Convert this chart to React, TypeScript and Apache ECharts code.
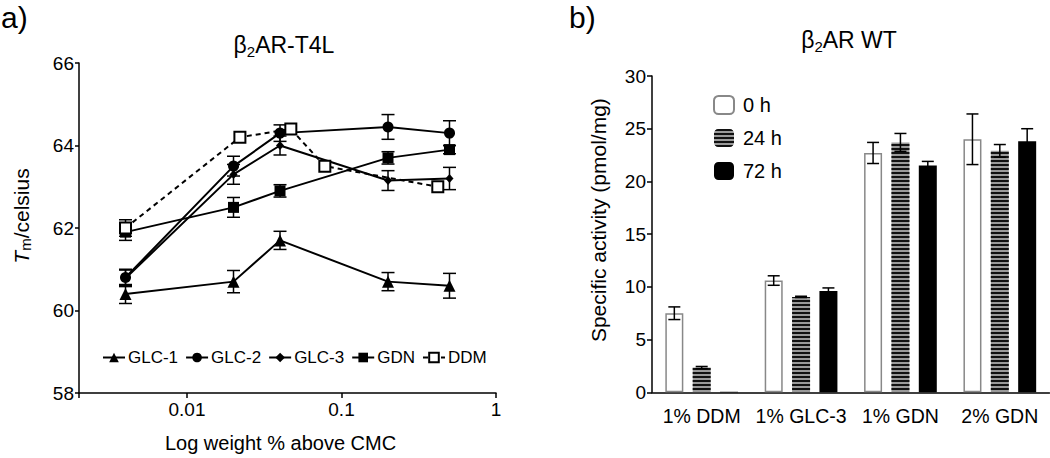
import React, { useEffect, useRef } from 'react';
import * as echarts from 'echarts';

// ---------- Panel a) data ----------
const concentrations = [0.004, 0.02, 0.04, 0.2, 0.5];
const ddmConcentrations = [0.004, 0.022, 0.047, 0.078, 0.42];
const glc1 = [60.4, 60.7, 61.7, 60.7, 60.6];
const glc1Err = [0.23, 0.27, 0.22, 0.22, 0.3];
const glc2 = [60.8, 63.5, 64.3, 64.45, 64.3];
const glc2Err = [0.2, 0.24, 0.2, 0.3, 0.3];
const glc3 = [60.78, 63.3, 64.0, 63.15, 63.2];
const glc3Err = [0.2, 0.24, 0.23, 0.24, 0.27];
const gdn = [61.9, 62.5, 62.9, 63.7, 63.9];
const gdnErr = [0.2, 0.24, 0.15, 0.15, 0.1];
const ddm = [62.0, 64.2, 64.4, 63.5, 63.0];
const ddmErr = [0.2, 0, 0, 0, 0];
const leftYTicks = [58, 60, 62, 64, 66];
const leftXTickLabels = [0.01, 0.1, 1];
const leftXRange = [0.002, 1];

// ---------- Panel b) data ----------
const categories = ['1% DDM', '1% GLC-3', '1% GDN', '2% GDN'];
const act0h = [7.5, 10.6, 22.7, 24.0];
const act0hErr = [0.6, 0.45, 1.0, 2.4];
const act24h = [2.35, 9.05, 23.7, 22.9];
const act24hErr = [0.1, 0.06, 0.85, 0.6];
const act72h = [0.05, 9.6, 21.5, 23.8];
const act72hErr = [0, 0.3, 0.4, 1.2];
const rightYTicks = [0, 5, 10, 15, 20, 25, 30];

const FONT = 'Liberation Sans, Arial, sans-serif';
const BAR_W = 18;
const BAR_GAP = 0.52;

function errorBarRender(offset: number, cap: number) {
  return (params: any, api: any) => {
    const x = api.value(0);
    const y = api.value(1);
    const e = api.value(2);
    if (!e) return null;
    const hi = api.coord([x, y + e]);
    const lo = api.coord([x, y - e]);
    const cx = hi[0] + offset;
    const st = { stroke: '#000', lineWidth: 1.5 };
    return {
      type: 'group',
      children: [
        { type: 'line', shape: { x1: cx, y1: hi[1], x2: cx, y2: lo[1] }, style: st },
        { type: 'line', shape: { x1: cx - cap, y1: hi[1], x2: cx + cap, y2: hi[1] }, style: st },
        { type: 'line', shape: { x1: cx - cap, y1: lo[1], x2: cx + cap, y2: lo[1] }, style: st },
      ],
    };
  };
}

function lineSeries(name: string, xs: number[], ys: number[], symbol: string, size: number | number[], dashed: boolean) {
  return {
    type: 'line',
    name,
    xAxisIndex: 0,
    yAxisIndex: 0,
    data: xs.map((x, i) => [x, ys[i]]),
    symbol,
    symbolSize: size,
    showSymbol: true,
    lineStyle: { color: '#000', width: 2, type: dashed ? [5, 4] : 'solid' },
    itemStyle: { color: '#000', borderColor: '#000', borderWidth: symbol === 'emptyRect' ? 1.5 : 0 },
    z: 3,
  };
}

function lineErrSeries(xs: number[], ys: number[], errs: number[]) {
  return {
    type: 'custom',
    xAxisIndex: 0,
    yAxisIndex: 0,
    renderItem: errorBarRender(0, 6.5),
    data: xs.map((x, i) => [x, ys[i], errs[i]]),
    z: 2,
  };
}

function barErrSeries(vals: number[], errs: number[], idx: number) {
  return {
    type: 'custom',
    xAxisIndex: 1,
    yAxisIndex: 1,
    renderItem: errorBarRender((idx - 1) * BAR_W * (1 + BAR_GAP), 6),
    data: vals.map((v, i) => [i, v, errs[i]]),
    z: 4,
  };
}

const axisLineStyle = { show: true, lineStyle: { color: '#000', width: 1.5 } };

const titleRich = {
  m: { fontSize: 23, lineHeight: 28, fontFamily: FONT },
  s: { fontSize: 15, lineHeight: 15, verticalAlign: 'bottom', fontFamily: FONT },
};

const option: any = {
  animation: false,
  backgroundColor: '#fff',
  textStyle: { fontFamily: FONT, color: '#000' },
  graphic: [
    { type: 'text', x: 1, y: 2, style: { text: 'a)', font: '30px ' + FONT, fill: '#000', verticalAlign: 'top' } },
    { type: 'text', x: 569, y: 2, style: { text: 'b)', font: '30px ' + FONT, fill: '#000', verticalAlign: 'top' } },
    {
      type: 'text', x: 284, y: 31,
      style: { text: '{m|β}{s|2}{m|AR-T4L}', align: 'center', verticalAlign: 'top', fill: '#000', rich: titleRich },
    },
    {
      type: 'text', x: 849, y: 26,
      style: { text: '{m|β}{s|2}{m|AR WT}', align: 'center', verticalAlign: 'top', fill: '#000', rich: titleRich },
    },
  ],
  grid: [
    { left: 79, top: 63, width: 417, height: 330 },
    { left: 652, top: 76, width: 397.5, height: 316.3 },
  ],
  legend: [
    {
      data: ['GLC-1', 'GLC-2', 'GLC-3', 'GDN', 'DDM'],
      left: 102, top: 349, orient: 'horizontal', padding: 0,
      itemWidth: 22, itemHeight: 12, itemGap: 7,
      textStyle: { fontSize: 17, fontFamily: FONT, color: '#000', padding: [0, 0, 0, -2] },
    },
    {
      data: ['0 h', '24 h', '72 h'],
      left: 713, top: 95, orient: 'vertical', padding: 0,
      itemWidth: 20, itemHeight: 18, itemGap: 13,
      textStyle: { fontSize: 20, fontFamily: FONT, color: '#000', padding: [0, 0, 0, 4] },
    },
  ],
  xAxis: [
    {
      type: 'log', gridIndex: 0, logBase: 10,
      min: leftXRange[0], max: leftXRange[1],
      axisLine: axisLineStyle,
      axisTick: { show: true, length: 5, lineStyle: { color: '#000', width: 1.5 } },
      minorTick: { show: false },
      splitLine: { show: false },
      axisLabel: {
        fontSize: 19, color: '#000', margin: 7, fontFamily: FONT,
        formatter: (v: number) => {
          const t = leftXTickLabels.find((t) => Math.abs(t - v) / t < 1e-6);
          return t === undefined ? '' : String(t);
        },
      },
      name: 'Log weight % above CMC',
      nameLocation: 'middle', nameGap: 40,
      nameTextStyle: { fontSize: 20, color: '#000', fontFamily: FONT, padding: [0, 14, 0, 0] },
    },
    {
      type: 'category', gridIndex: 1, data: categories,
      axisLine: axisLineStyle,
      axisTick: { show: false },
      axisLabel: { fontSize: 19.5, color: '#000', margin: 14, fontFamily: FONT, interval: 0 },
    },
  ],
  yAxis: [
    {
      type: 'value', gridIndex: 0,
      min: leftYTicks[0], max: leftYTicks[leftYTicks.length - 1], interval: leftYTicks[1] - leftYTicks[0],
      axisLine: axisLineStyle,
      axisTick: { show: true, length: 4, lineStyle: { color: '#000', width: 1.5 } },
      splitLine: { show: false },
      axisLabel: { fontSize: 19, color: '#000', margin: 5, fontFamily: FONT },
      name: '{i|T}{s|m}{n|/celsius}',
      nameLocation: 'middle', nameGap: 46,
      nameTextStyle: {
        padding: [0, 0, 0, 24],
        rich: {
          i: { fontSize: 21, fontStyle: 'italic', fontFamily: FONT, color: '#000', lineHeight: 24 },
          s: { fontSize: 15, fontFamily: FONT, color: '#000', verticalAlign: 'bottom', lineHeight: 15 },
          n: { fontSize: 21, fontFamily: FONT, color: '#000', lineHeight: 24 },
        },
      },
    },
    {
      type: 'value', gridIndex: 1,
      min: rightYTicks[0], max: rightYTicks[rightYTicks.length - 1], interval: rightYTicks[1] - rightYTicks[0],
      axisLine: axisLineStyle,
      axisTick: { show: true, length: 5, lineStyle: { color: '#000', width: 1.5 } },
      splitLine: { show: false },
      axisLabel: { fontSize: 19, color: '#000', margin: 6, fontFamily: FONT },
      name: 'Specific activity (pmol/mg)',
      nameLocation: 'middle', nameGap: 43,
      nameTextStyle: { fontSize: 21, color: '#000', fontFamily: FONT, padding: [0, 0, 0, 28] },
    },
  ],
  series: [
    lineErrSeries(concentrations, glc1, glc1Err),
    lineErrSeries(concentrations, glc2, glc2Err),
    lineErrSeries(concentrations, glc3, glc3Err),
    lineErrSeries(concentrations, gdn, gdnErr),
    lineErrSeries(ddmConcentrations, ddm, ddmErr),
    lineSeries('GLC-1', concentrations, glc1, 'triangle', 12, false),
    lineSeries('GLC-2', concentrations, glc2, 'circle', 11, false),
    lineSeries('GLC-3', concentrations, glc3, 'diamond', [8, 9], false),
    lineSeries('GDN', concentrations, gdn, 'rect', 11, false),
    lineSeries('DDM', ddmConcentrations, ddm, 'emptyRect', 11, true),
    {
      type: 'bar', name: '0 h', xAxisIndex: 1, yAxisIndex: 1, data: act0h,
      barWidth: BAR_W, barGap: BAR_GAP * 100 + '%',
      itemStyle: { color: '#fff', borderColor: '#888', borderWidth: 1.5 },
    },
    {
      type: 'bar', name: '24 h', xAxisIndex: 1, yAxisIndex: 1, data: act24h,
      barWidth: BAR_W, barGap: BAR_GAP * 100 + '%',
      itemStyle: {
        color: '#9a9a9a',
        decal: { symbol: 'rect', symbolSize: 1, dashArrayX: [1, 0], dashArrayY: [1.5, 1.5], rotation: 0, color: '#111' },
      },
    },
    {
      type: 'bar', name: '72 h', xAxisIndex: 1, yAxisIndex: 1, data: act72h,
      barWidth: BAR_W, barGap: BAR_GAP * 100 + '%',
      itemStyle: { color: '#000' },
    },
    barErrSeries(act0h, act0hErr, 0),
    barErrSeries(act24h, act24hErr, 1),
    barErrSeries(act72h, act72hErr, 2),
  ],
};

export default function App() {
  const ref = useRef<HTMLDivElement>(null);
  useEffect(() => {
    const chart = echarts.init(ref.current!, null, { renderer: 'svg' });
    chart.setOption(option);
    return () => chart.dispose();
  }, []);
  return (
    <div
      ref={ref}
      style={{ position: 'absolute', left: 0, top: 0, width: 1050, height: 458, background: '#fff' }}
    />
  );
}
